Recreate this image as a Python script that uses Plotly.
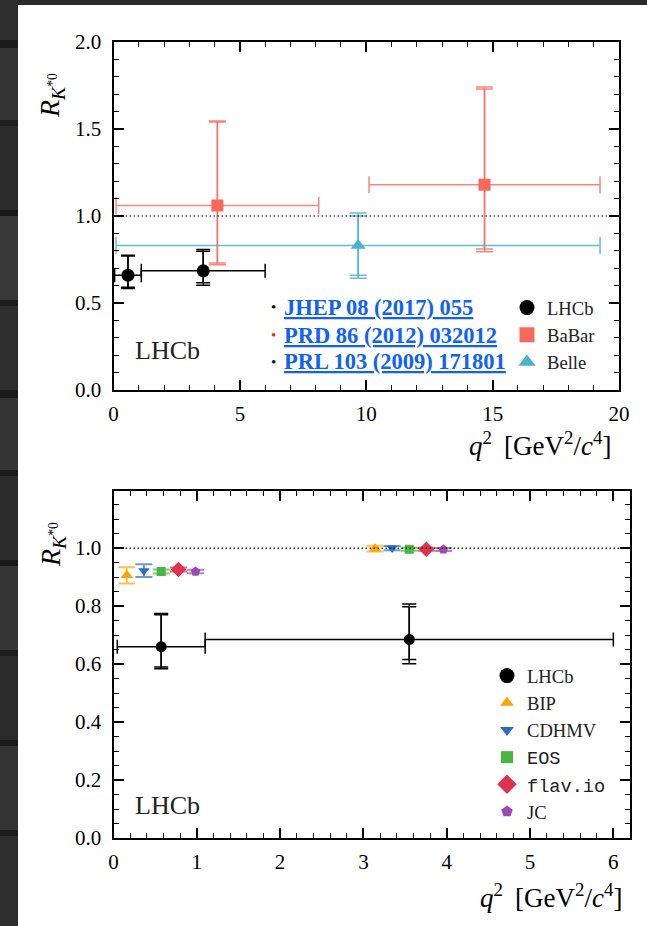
import math
import plotly.graph_objects as go

W, H = 647, 926

# ---- LHCb, JHEP 08 (2017) 055 ----
lhcb_q2 = [0.5725, 3.55]
lhcb_q2_lo = [0.045, 1.1]
lhcb_q2_hi = [1.1, 6.0]
lhcb_r = [0.66, 0.685]
lhcb_stat_up = [0.11, 0.113]
lhcb_stat_dn = [0.07, 0.069]
lhcb_syst = [0.03, 0.047]

# ---- BaBar, PRD 86 (2012) 032012 ----
babar_q2 = [4.11, 14.68]
babar_q2_lo = [0.10, 10.11]
babar_q2_hi = [8.12, 19.25]
babar_r = [1.06, 1.18]
babar_stat_up = [0.48, 0.55]
babar_stat_dn = [0.33, 0.37]
babar_syst = [0.08, 0.11]

# ---- Belle, PRL 103 (2009) 171801 ----
belle_q2 = [9.68]
belle_q2_lo = [0.10]
belle_q2_hi = [19.25]
belle_r = [0.83]
belle_stat = [0.17]
belle_syst = [0.08]

# ---- SM predictions in the two LHCb bins ----
bip_q2 = [0.16, 3.14]
bip_r = [0.906, 0.998]
bip_err = [0.028, 0.010]

cdhmv_q2 = [0.365, 3.345]
cdhmv_r = [0.922, 1.000]
cdhmv_err = [0.022, 0.007]

eos_q2 = [0.5725, 3.55]
eos_r = [0.919, 0.996]
eos_err = [0.007, 0.005]

flavio_q2 = [0.78, 3.755]
flavio_r = [0.926, 0.996]
flavio_err = [0.007, 0.005]

jc_q2 = [0.985, 3.96]
jc_r = [0.919, 0.995]
jc_err = [0.006, 0.005]

SERIF = "Liberation Serif"
MONO = "Liberation Mono"


def px(x):
    return x / W


def py(y):
    return 1 - y / H


def quad(a, b):
    return [math.sqrt(u * u + v * v) for u, v in zip(a, b)]


def xerr(c, lo, hi):
    return [h - m for m, h in zip(c, hi)], [m - l for m, l in zip(c, lo)]


fig = go.Figure()


def measurement(xa, ya, q2, lo, hi, r, up, dn, syst, color, barcolor,
                symbol, size, cap):
    ex_p, ex_m = xerr(q2, lo, hi)
    tot_up = quad(up, syst)
    tot_dn = quad(dn, syst)
    # total uncertainty (outer caps)
    fig.add_trace(go.Scatter(
        x=q2, y=r, xaxis=xa, yaxis=ya, mode="markers",
        marker=dict(size=1, opacity=0), showlegend=False, hoverinfo="skip",
        error_y=dict(type="data", symmetric=False, array=tot_up,
                     arrayminus=tot_dn, color=barcolor, thickness=1.5,
                     width=cap),
    ))
    # statistical uncertainty, bin width and marker
    fig.add_trace(go.Scatter(
        x=q2, y=r, xaxis=xa, yaxis=ya, mode="markers",
        marker=dict(size=size, color=color, symbol=symbol), showlegend=False,
        error_x=dict(type="data", symmetric=False, array=ex_p,
                     arrayminus=ex_m, color=barcolor, thickness=1.5,
                     width=cap),
        error_y=dict(type="data", symmetric=False, array=up, arrayminus=dn,
                     color=barcolor, thickness=1.5, width=cap),
    ))


# top panel: measurements
measurement("x", "y", lhcb_q2, lhcb_q2_lo, lhcb_q2_hi, lhcb_r, lhcb_stat_up,
            lhcb_stat_dn, lhcb_syst, "black", "black", "circle", 13, 7)
measurement("x", "y", babar_q2, babar_q2_lo, babar_q2_hi, babar_r,
            babar_stat_up, babar_stat_dn, babar_syst, "#F8695C",
            "rgba(245,105,92,0.8)", "square", 12, 8.5)
measurement("x", "y", belle_q2, belle_q2_lo, belle_q2_hi, belle_r, belle_stat,
            belle_stat, belle_syst, "#4AB3C9", "rgba(74,179,201,0.85)",
            "triangle-up", 13, 8.5)

# bottom panel: LHCb against predictions
measurement("x2", "y2", lhcb_q2, lhcb_q2_lo, lhcb_q2_hi, lhcb_r, lhcb_stat_up,
            lhcb_stat_dn, lhcb_syst, "black", "black", "circle", 11, 7)

theory = [
    (bip_q2, bip_r, bip_err, "#FFA500", "rgba(255,165,0,0.7)",
     "triangle-up", 11),
    (cdhmv_q2, cdhmv_r, cdhmv_err, "#2A6FBD", "rgba(42,111,189,0.7)",
     "triangle-down", 10),
    (eos_q2, eos_r, eos_err, "#4BB543", "rgba(75,181,67,0.7)", "square", 9),
    (flavio_q2, flavio_r, flavio_err, "#DC344F", "rgba(220,52,79,0.7)",
     "diamond", 12),
    (jc_q2, jc_r, jc_err, "#9B49B3", "rgba(155,73,179,0.7)", "pentagon", 10),
]
for q2, r, err, col, bcol, sym, size in theory:
    fig.add_trace(go.Scatter(
        x=q2, y=r, xaxis="x2", yaxis="y2", mode="markers",
        marker=dict(size=size, color=col, symbol=sym), showlegend=False,
        error_y=dict(type="data", array=err, color=bcol, thickness=2,
                     width=8.5),
    ))

# legend entries
top_entries = [("LHCb", "black", "circle", 15),
               ("BaBar", "#F8695C", "square", 15),
               ("Belle", "#4AB3C9", "triangle-up", 15)]
for name, col, sym, size in top_entries:
    fig.add_trace(go.Scatter(
        x=[None], y=[None], xaxis="x", yaxis="y", mode="markers", name=name,
        marker=dict(size=size, color=col, symbol=sym), legend="legend"))

mono = '<span style="font-family:%s">%%s</span>' % MONO
bottom_entries = [("LHCb", "black", "circle", 15),
                  ("BIP", "#FFA500", "triangle-up", 12),
                  ("CDHMV", "#2A6FBD", "triangle-down", 12),
                  (mono % "EOS", "#4BB543", "square", 12),
                  (mono % "flav.io", "#DC344F", "diamond", 15),
                  ("JC", "#9B49B3", "pentagon", 12)]
for name, col, sym, size in bottom_entries:
    fig.add_trace(go.Scatter(
        x=[None], y=[None], xaxis="x2", yaxis="y2", mode="markers", name=name,
        marker=dict(size=size, color=col, symbol=sym), legend="legend2"))

tickfont = dict(family=SERIF, size=21, color="black")


def axis(domain, rng, dtick, minor, anchor, fmt=None, standoff=4):
    d = dict(
        domain=domain, range=rng, dtick=dtick, tick0=0, anchor=anchor,
        showline=True, linecolor="black", linewidth=2, mirror="ticks",
        ticks="inside", ticklen=10, tickwidth=1.5, tickcolor="black",
        showgrid=False, zeroline=False, tickfont=dict(tickfont),
        ticklabelstandoff=standoff, automargin=False,
        minor=dict(ticks="inside", ticklen=5, tickwidth=1.2,
                   tickcolor="black", dtick=minor, showgrid=False),
    )
    if fmt:
        d["tickformat"] = fmt
    return d


shapes = [
    dict(type="rect", xref="paper", yref="paper", x0=px(18), x1=1, y0=0,
         y1=py(5), fillcolor="white", line=dict(width=0), layer="below"),
]
# wood-grain strip along the left and top edges
grain = [(0, 40, "#2f2f2f"), (40, 48, "#1c1c1c"), (48, 120, "#343434"),
         (120, 126, "#1e1e1e"), (126, 210, "#2b2b2b"), (210, 216, "#181818"),
         (216, 300, "#393939"), (300, 306, "#1d1d1d"), (306, 390, "#2e2e2e"),
         (390, 398, "#1a1a1a"), (398, 470, "#353535"), (470, 476, "#1c1c1c"),
         (476, 560, "#2c2c2c"), (560, 566, "#181818"), (566, 650, "#363636"),
         (650, 656, "#1e1e1e"), (656, 740, "#2a2a2a"), (740, 746, "#1a1a1a"),
         (746, 830, "#333333"), (830, 836, "#1c1c1c"), (836, 926, "#2d2d2d")]
for y0, y1, c in grain:
    shapes.append(dict(type="rect", xref="paper", yref="paper", x0=0,
                       x1=px(18), y0=py(y1), y1=py(y0), fillcolor=c,
                       line=dict(width=0), layer="below"))
shapes.append(dict(type="rect", xref="paper", yref="paper", x0=px(18), x1=1,
                   y0=py(5), y1=1, fillcolor="#2a2a2a", line=dict(width=0),
                   layer="below"))
# R = 1 reference lines
for xr, yr, x1 in (("x", "y", 20), ("x2", "y2", 6.2)):
    shapes.append(dict(type="line", xref=xr, yref=yr, x0=0, x1=x1, y0=1, y1=1,
                       line=dict(color="black", width=1.2,
                                 dash="1.5px,2.5px")))

ann = []
ytitle = "<i>R</i><sub><i>K</i><sup>*0</sup></sub>"
xtitle = ("<i>q</i><sup>2</sup>\u2009 [GeV<sup>2</sup>/<i>c</i>"
          "<sup>4</sup>]")
for yc in (96, 545):
    ann.append(dict(xref="paper", yref="paper", x=px(52), y=py(yc),
                    text=ytitle, textangle=-90, showarrow=False,
                    xanchor="center", yanchor="middle",
                    font=dict(family=SERIF, size=28, color="black")))
for xr, yc in ((614, 444), (625, 896)):
    ann.append(dict(xref="paper", yref="paper", x=px(xr), y=py(yc),
                    text=xtitle, showarrow=False, xanchor="right",
                    yanchor="middle",
                    font=dict(family=SERIF, size=27, color="black")))
for yc in (351, 805):
    ann.append(dict(xref="paper", yref="paper", x=px(133), y=py(yc),
                    text="LHCb", showarrow=False, xanchor="left",
                    yanchor="middle",
                    font=dict(family=SERIF, size=26, color="#222222")))

links = [("JHEP 08 (2017) 055", "black", 307),
         ("PRD 86 (2012) 032012", "#FF2A00", 335),
         ("PRL 103 (2009) 171801", "#0A0A80", 362)]
for label, dot, yc in links:
    ann.append(dict(xref="paper", yref="paper", x=px(273), y=py(yc),
                    text="\u2022", showarrow=False, xanchor="center",
                    yanchor="middle",
                    font=dict(family=SERIF, size=15, color=dot)))
    ann.append(dict(xref="paper", yref="paper", x=px(282), y=py(yc),
                    text="<b><u>%s</u></b>" % label,
                    showarrow=False, xanchor="left", yanchor="middle",
                    font=dict(family=SERIF, size=22.5, color="#0F62F5",
                              weight="bold")))

legend_font = dict(family=SERIF, size=18.6, color="#222222")

fig.update_layout(
    width=W, height=H,
    margin=dict(l=0, r=0, t=0, b=0, pad=0, autoexpand=False),
    font=dict(family=SERIF, color="black"),
    paper_bgcolor="#262626", plot_bgcolor="white",
    xaxis=axis([px(113.5), px(619)], [0, 20], 5, 1, "y"),
    yaxis=axis([py(390), py(42)], [0, 2.0], 0.5, 0.1, "x", ".1f", 6),
    xaxis2=axis([px(113.5), px(630)], [0, 6.2], 1, 0.2, "y2"),
    yaxis2=axis([py(838), py(491)], [0, 1.197], 0.2, 0.05, "x2", ".1f", 6),
    shapes=shapes, annotations=ann,
    legend=dict(x=px(507), y=py(289), xanchor="left", yanchor="top",
                bgcolor="rgba(0,0,0,0)", font=legend_font,
                itemsizing="trace", itemclick=False),
    legend2=dict(x=px(487), y=py(657), xanchor="left", yanchor="top",
                 bgcolor="rgba(0,0,0,0)", font=legend_font,
                 itemsizing="trace", itemclick=False),
    showlegend=True, hovermode=False,
)

fig.write_html("out.html")
